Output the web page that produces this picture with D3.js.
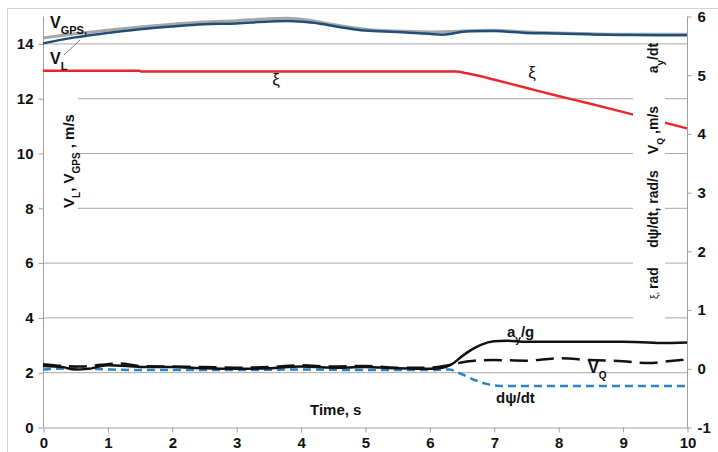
<!DOCTYPE html>
<meta charset="utf-8">
<style>
  body { margin: 0; background: #fff; }
  svg { font-family: 'Liberation Sans', Arial, sans-serif; }
  .tick text { font-weight: bold; font-size: 15px; fill: #111; }
  .lbl { font-weight: bold; font-size: 15px; fill: #111; }
</style>
<svg width="718" height="452"></svg>
<script src="https://cdnjs.cloudflare.com/ajax/libs/d3/7.8.5/d3.min.js"></script>
<script>

// data (time in s)
var vgps = [[0,14.2],[0.5,14.35],[1,14.48],[1.5,14.6],[2,14.7],[2.5,14.78],[3,14.83],[3.5,14.9],[3.8,14.92],[4.2,14.82],[4.6,14.65],[5,14.52],[5.5,14.45],[6,14.42],[6.5,14.45],[7,14.48],[7.5,14.42],[8,14.38],[8.5,14.35],[9,14.33],[9.5,14.33],[10,14.33]];
var vl = [[0,14.0],[0.5,14.22],[1,14.38],[1.5,14.52],[2,14.62],[2.5,14.7],[3,14.73],[3.5,14.8],[3.8,14.82],[4.2,14.75],[4.6,14.6],[5,14.47],[5.5,14.42],[6,14.35],[6.2,14.32],[6.6,14.44],[7,14.45],[7.5,14.38],[8,14.36],[8.5,14.33],[9,14.31],[9.5,14.3],[10,14.3]];
var xi = [[0,13.0],[1.5,13.0],[1.52,12.97],[6.4,12.97],[6.6,12.9],[6.8,12.8],[7,12.68],[7.5,12.38],[8,12.08],[8.5,11.8],[9,11.5],[9.5,11.2],[10,10.9]];
var ayg = [[0,0.04],[0.3,0.02],[0.5,-0.02],[0.7,-0.01],[1,0.05],[1.3,0.04],[1.6,0.02],[2,0.02],[2.5,0.0],[3,-0.01],[3.5,0.0],[4,0.03],[4.5,0.01],[5,0.02],[5.5,0.0],[6,-0.01],[6.2,0.01],[6.35,0.07],[6.5,0.2],[6.6,0.28],[6.8,0.4],[7,0.46],[7.2,0.47],[7.5,0.45],[8,0.45],[8.5,0.45],[9,0.45],[9.4,0.44],[9.6,0.43],[10,0.44]];
var vq = [[0,0.07],[0.3,0.04],[0.6,0.03],[0.9,0.06],[1.2,0.08],[1.5,0.04],[2,0.03],[2.5,0.02],[3,0.01],[3.5,0.02],[4,0.05],[4.5,0.03],[5,0.04],[5.5,0.01],[6,0.01],[6.3,0.05],[6.5,0.1],[6.7,0.13],[7,0.14],[7.5,0.13],[8,0.17],[8.5,0.14],[9,0.12],[9.4,0.09],[9.7,0.12],[10,0.15]];
var dpsi = [[0,-0.02],[0.5,0.0],[1,-0.02],[1.5,-0.03],[2,-0.03],[3,-0.03],[4,-0.02],[5,-0.03],[6,-0.03],[6.3,-0.02],[6.5,-0.1],[6.7,-0.2],[6.9,-0.27],[7.1,-0.3],[8,-0.3],[9,-0.3],[10,-0.3]];

var xTicks = [0,1,2,3,4,5,6,7,8,9,10];
var leftTicks = [0,2,4,6,8,10,12,14];
var rightTicks = [-1,0,1,2,3,4,5,6];

var svg = d3.select("svg");

var x = d3.scaleLinear().domain([0, 10]).range([43, 687]);
var yL = d3.scaleLinear().domain([0, 15]).range([427, 16]);
var yR = d3.scaleLinear().domain([-1, 6]).range([427, 16]);

// outer border
svg.append("rect")
  .attr("x", 7.5).attr("y", 8.5).attr("width", 720).attr("height", 460)
  .attr("fill", "none").attr("stroke", "#d4d4d4");

// gridlines
svg.append("g").selectAll("line")
  .data(leftTicks.filter(function(d) { return d > 0; }))
  .enter().append("line")
  .attr("x1", 43).attr("x2", 687)
  .attr("y1", function(d) { return yL(d) + 0.5; })
  .attr("y2", function(d) { return yL(d) + 0.5; })
  .attr("stroke", "#a8a8a8");

// axes
var fmt = function(d) { return String(d); };
var gl = svg.append("g").attr("transform", "translate(43.5,0.5)")
  .call(d3.axisLeft(yL).tickValues(leftTicks).tickFormat(fmt).tickSize(5).tickPadding(5).tickSizeOuter(0));
var gr = svg.append("g").attr("transform", "translate(687.5,0.5)")
  .call(d3.axisRight(yR).tickValues(rightTicks).tickFormat(fmt).tickSize(4).tickPadding(6).tickSizeOuter(0));
var gb = svg.append("g").attr("transform", "translate(0.5,427.5)")
  .call(d3.axisBottom(x).tickValues(xTicks).tickFormat(fmt).tickSize(5).tickPadding(5).tickSizeOuter(0));
[gl, gr, gb].forEach(function(g) {
  g.selectAll("path, line").attr("stroke", "#a0a0a0");
});
gl.select(".domain").attr("d", "M0,16V427");
gr.select(".domain").attr("d", "M0,16V427");

// series
function lineL(data, color, w, dash) {
  svg.append("path").datum(data)
    .attr("fill", "none").attr("stroke", color).attr("stroke-width", w)
    .attr("stroke-dasharray", dash || null)
    .attr("d", d3.line().x(function(d) { return x(d[0]); }).y(function(d) { return yL(d[1]); }).curve(d3.curveMonotoneX));
}
function lineR(data, color, w, dash) {
  svg.append("path").datum(data)
    .attr("fill", "none").attr("stroke", color).attr("stroke-width", w)
    .attr("stroke-dasharray", dash || null)
    .attr("d", d3.line().x(function(d) { return x(d[0]); }).y(function(d) { return yR(d[1]); }).curve(d3.curveMonotoneX));
}

lineL(vgps, "#a6a6a6", 3);
lineL(vl, "#1f4e79", 2.5);
lineL(xi, "#e8262b", 2.5);
lineR(dpsi, "#2b84c4", 2.5, "8,5");
lineR(vq, "#111", 2.5, "18,8");
lineR(ayg, "#111", 2.5);

// white boxes behind axis titles
svg.append("rect").attr("x", 44).attr("y", 92).attr("width", 34).attr("height", 126).attr("fill", "#fff");
svg.append("rect").attr("x", 633).attr("y", 90).attr("width", 32).attr("height", 232).attr("fill", "#fff");

// left title
var lt = svg.append("text").attr("class", "lbl")
  .attr("transform", "translate(74,161) rotate(-90)")
  .attr("text-anchor", "middle").style("font-size", "15px");
lt.append("tspan").text("V");
lt.append("tspan").attr("baseline-shift", "sub").style("font-size", "10px").text("L");
lt.append("tspan").text(", V");
lt.append("tspan").attr("baseline-shift", "sub").style("font-size", "10px").text("GPS");
lt.append("tspan").text(" , m/s");

// right title pieces
function rtitle(cy, build) {
  var t = svg.append("text").attr("class", "lbl")
    .attr("transform", "translate(658," + cy + ") rotate(-90)")
    .attr("text-anchor", "middle").style("font-size", "14px");
  build(t);
}
rtitle(58, function(t) {
  t.append("tspan").text("a");
  t.append("tspan").attr("baseline-shift", "sub").style("font-size", "10px").text("y");
  t.append("tspan").text("/dt");
});
rtitle(130, function(t) {
  t.append("tspan").text("V");
  t.append("tspan").attr("baseline-shift", "sub").style("font-size", "9px").text("Q");
  t.append("tspan").text(" ,m/s");
});
rtitle(209, function(t) { t.text("dψ/dt, rad/s"); });
rtitle(283, function(t) {
  t.append("tspan").style("font-weight", "normal").style("font-size", "10px").text("ξ, ");
  t.append("tspan").text("rad");
});

// annotations
var a1 = svg.append("text").attr("class", "lbl").attr("x", 50).attr("y", 28).style("font-size", "16px");
a1.append("tspan").text("V");
a1.append("tspan").attr("baseline-shift", "sub").style("font-size", "11px").text("GPS,");
var a2 = svg.append("text").attr("class", "lbl").attr("x", 50).attr("y", 64).style("font-size", "16px");
a2.append("tspan").text("V");
a2.append("tspan").attr("baseline-shift", "sub").style("font-size", "11px").text("L");
svg.append("line").attr("x1", 64).attr("y1", 55).attr("x2", 80).attr("y2", 40)
  .attr("stroke", "#777").attr("stroke-width", 1);

svg.append("text").attr("x", 276).attr("y", 85).attr("text-anchor", "middle")
  .style("font-size", "17px").style("fill", "#111").text("ξ");
svg.append("text").attr("x", 532).attr("y", 78).attr("text-anchor", "middle")
  .style("font-size", "17px").style("fill", "#111").text("ξ");

var a3 = svg.append("text").attr("class", "lbl").attr("x", 507).attr("y", 337);
a3.append("tspan").text("a");
a3.append("tspan").attr("baseline-shift", "sub").style("font-size", "10px").text("y");
a3.append("tspan").text("/g");
var a4 = svg.append("text").attr("class", "lbl").attr("x", 588).attr("y", 373).style("font-size", "16px");
a4.append("tspan").text("V");
a4.append("tspan").attr("baseline-shift", "sub").style("font-size", "10px").text("Q");
svg.append("text").attr("class", "lbl").attr("x", 496).attr("y", 403).text("dψ/dt");
svg.append("text").attr("class", "lbl").attr("x", 310).attr("y", 415).text("Time, s");

</script>
